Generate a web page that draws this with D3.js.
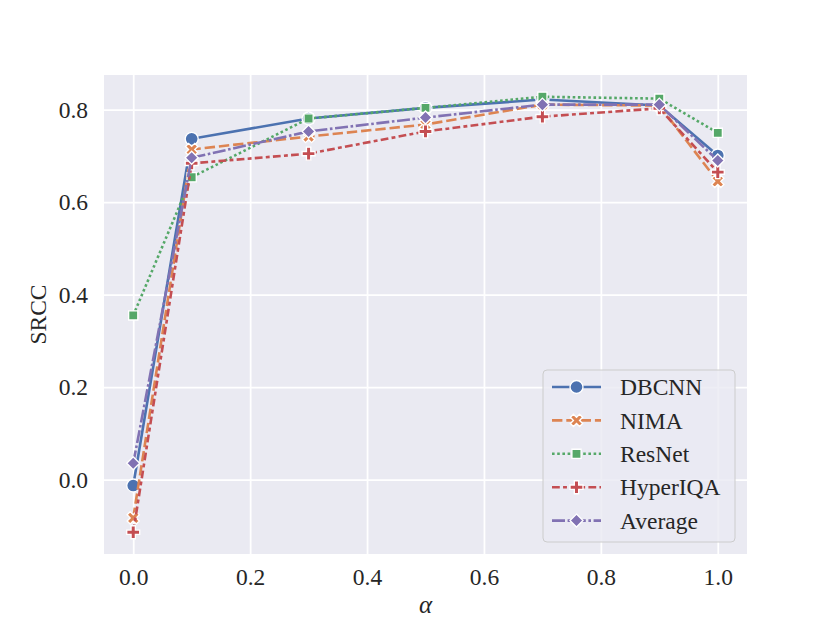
<!DOCTYPE html>
<html>
<head>
<meta charset="utf-8">
<script src="https://cdn.jsdelivr.net/npm/d3@7"></script>
<style>
  body { margin: 0; background: #fff; }
  svg { display: block; font-family: "Liberation Serif", "DejaVu Serif", serif; }
</style>
</head>
<body>
<div id="chart"></div>
<script>
// alpha values on the x axis
const alphas = [0.0, 0.1, 0.3, 0.5, 0.7, 0.9, 1.0];

// SRCC for each model
const dbcnn    = [-0.013, 0.737, 0.781, 0.804, 0.822, 0.809, 0.701];
const nima     = [-0.083, 0.714, 0.742, 0.768, 0.811, 0.809, 0.645];
const resnet   = [ 0.355, 0.654, 0.781, 0.804, 0.828, 0.824, 0.750];
const hyperiqa = [-0.114, 0.684, 0.705, 0.753, 0.785, 0.803, 0.665];
const average  = [ 0.035, 0.696, 0.753, 0.783, 0.811, 0.811, 0.690];

const xTicks = [0.0, 0.2, 0.4, 0.6, 0.8, 1.0];
const yTicks = [0.0, 0.2, 0.4, 0.6, 0.8];

const width = 830, height = 623;
const margin = { left: 104, right: 83, top: 75, bottom: 69 };
const lw = 2.6;   // line width
const ms = 13;    // marker size (px)
const fontSize = "23.5px";

const series = [
  { name: "DBCNN",    values: dbcnn,    color: "#4c72b0", dash: null,                 marker: "circle" },
  { name: "NIMA",     values: nima,     color: "#dd8452", dash: [4, 1.5],             marker: "x" },
  { name: "ResNet",   values: resnet,   color: "#55a868", dash: [1, 1],               marker: "square" },
  { name: "HyperIQA", values: hyperiqa, color: "#c44e52", dash: [3, 1.25, 1.5, 1.25], marker: "plus" },
  { name: "Average",  values: average,  color: "#8172b3", dash: [5, 1, 1, 1],         marker: "diamond" }
];

// marker outlines, shaped like matplotlib's o, X, square, P, D
function markerPath(kind, s) {
  const h = s / 2;
  if (kind === "circle") {
    const p = d3.path(); p.arc(0, 0, h, 0, 2 * Math.PI); p.closePath(); return p.toString();
  }
  if (kind === "square") {
    const a = h / Math.SQRT2;
    return `M${-a},${-a}L${a},${-a}L${a},${a}L${-a},${a}Z`;
  }
  if (kind === "diamond") {
    return `M0,${-h}L${h},0L0,${h}L${-h},0Z`;
  }
  // filled plus, optionally rotated 45 degrees for the X
  const u = s / 6;
  let pts = [[-1,-3],[1,-3],[1,-1],[3,-1],[3,1],[1,1],[1,3],[-1,3],[-1,1],[-3,1],[-3,-1],[-1,-1]]
    .map(([a, b]) => [a * u, b * u]);
  if (kind === "x") {
    const c = Math.SQRT1_2;
    pts = pts.map(([a, b]) => [a * c - b * c, a * c + b * c]);
  }
  return "M" + pts.map(p => p.join(",")).join("L") + "Z";
}

const svg = d3.select("#chart").append("svg")
  .attr("width", width)
  .attr("height", height);

const allY = series.flatMap(s => s.values);
const yMin = d3.min(allY), yMax = d3.max(allY);
const yPad = (yMax - yMin) * 0.05;

const x = d3.scaleLinear()
  .domain([-0.05, 1.05])
  .range([margin.left, width - margin.right]);

const y = d3.scaleLinear()
  .domain([yMin - yPad, yMax + yPad])
  .range([height - margin.bottom, margin.top]);

// plot background
svg.append("rect")
  .attr("x", margin.left)
  .attr("y", margin.top)
  .attr("width", width - margin.left - margin.right)
  .attr("height", height - margin.top - margin.bottom)
  .attr("fill", "#eaeaf2");

// grid + tick labels through d3 axes
const xAxis = svg.append("g")
  .attr("transform", `translate(0,${height - margin.bottom})`)
  .call(d3.axisBottom(x).tickValues(xTicks).tickFormat(d3.format(".1f"))
    .tickSize(-(height - margin.top - margin.bottom)).tickPadding(14));

const yAxis = svg.append("g")
  .attr("transform", `translate(${margin.left},0)`)
  .call(d3.axisLeft(y).tickValues(yTicks).tickFormat(d3.format(".1f"))
    .tickSize(-(width - margin.left - margin.right)).tickPadding(16));

[xAxis, yAxis].forEach(g => {
  g.select(".domain").remove();
  g.selectAll(".tick line").attr("stroke", "#fff").attr("stroke-width", 1.8);
  g.selectAll(".tick text")
    .attr("fill", "#262626")
    .style("font-size", fontSize)
    .style("font-family", "'Liberation Serif', serif");
});

// lines with markers
const line = d3.line()
  .x((d, i) => x(alphas[i]))
  .y(d => y(d));

series.forEach(s => {
  const g = svg.append("g");
  g.append("path")
    .datum(s.values)
    .attr("d", line)
    .attr("fill", "none")
    .attr("stroke", s.color)
    .attr("stroke-width", lw)
    .attr("stroke-dasharray", s.dash ? s.dash.map(v => v * lw).join(",") : null);
  g.selectAll("path.mk")
    .data(s.values)
    .join("path")
    .attr("class", "mk")
    .attr("d", markerPath(s.marker, ms))
    .attr("transform", (d, i) => `translate(${x(alphas[i])},${y(d)})`)
    .attr("fill", s.color)
    .attr("stroke", "#fff")
    .attr("stroke-width", 1.35);
});

// axis labels
svg.append("text")
  .attr("x", x(0.5))
  .attr("y", 613)
  .attr("text-anchor", "middle")
  .attr("font-style", "italic")
  .style("font-size", "25px")
  .attr("fill", "#262626")
  .text("α");

svg.append("text")
  .attr("transform", `translate(46,${(margin.top + height - margin.bottom) / 2}) rotate(-90)`)
  .attr("text-anchor", "middle")
  .style("font-size", fontSize)
  .attr("fill", "#262626")
  .text("SRCC");

// legend
const legend = svg.append("g").attr("transform", "translate(543,370)");
legend.append("rect")
  .attr("width", 192)
  .attr("height", 172)
  .attr("rx", 4)
  .attr("fill", "#eaeaf2")
  .attr("fill-opacity", 0.8)
  .attr("stroke", "#cccccc")
  .attr("stroke-width", 1);

const item = legend.selectAll("g.item")
  .data(series)
  .join("g")
  .attr("class", "item")
  .attr("transform", (d, i) => `translate(0,${17 + i * 33.4})`);

item.append("line")
  .attr("x1", 9).attr("x2", 58)
  .attr("stroke", d => d.color)
  .attr("stroke-width", lw)
  .attr("stroke-dasharray", d => d.dash ? d.dash.map(v => v * lw).join(",") : null);

item.append("path")
  .attr("d", d => markerPath(d.marker, ms))
  .attr("transform", "translate(33.5,0)")
  .attr("fill", d => d.color)
  .attr("stroke", "#fff")
  .attr("stroke-width", 1.35);

item.append("text")
  .attr("x", 77)
  .attr("dy", "0.35em")
  .style("font-size", fontSize)
  .attr("fill", "#262626")
  .text(d => d.name);
</script>
</body>
</html>
